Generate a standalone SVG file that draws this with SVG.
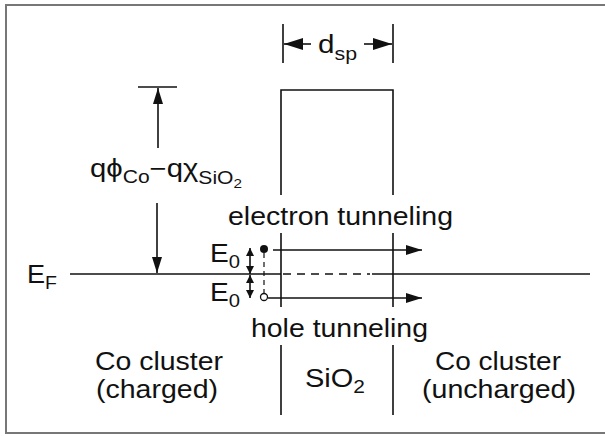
<svg xmlns="http://www.w3.org/2000/svg" width="605" height="436" viewBox="0 0 605 436">
<style>
.ln{stroke:#111;stroke-width:1.6;fill:none}
.dash{stroke:#111;stroke-width:1.6;fill:none;stroke-dasharray:8 6}
.dash2{stroke:#111;stroke-width:1.2;fill:none;stroke-dasharray:5 4}
.t{font-family:"Liberation Sans",Arial,sans-serif;font-size:25px;fill:#111}
.s{font-size:18px}
.ss{font-size:13px}
</style>
<defs>
<marker id="ah" viewBox="0 0 16 10" markerWidth="16" markerHeight="10" refX="16" refY="5" orient="auto-start-reverse" markerUnits="userSpaceOnUse"><path d="M0,0 L16,5 L0,10 Z" fill="#111"/></marker>
<marker id="ahb" viewBox="0 0 19 12" markerWidth="19" markerHeight="12" refX="19" refY="6" orient="auto-start-reverse" markerUnits="userSpaceOnUse"><path d="M0,0 L19,6 L0,12 Z" fill="#111"/></marker>
<marker id="ahs" viewBox="0 0 8 8" markerWidth="8" markerHeight="8" refX="8" refY="4" orient="auto-start-reverse" markerUnits="userSpaceOnUse"><path d="M0,0 L8,4 L0,8 Z" fill="#111"/></marker>
</defs>
<rect width="605" height="436" fill="#fff"/>
<g id="frame"><path d="M612,5 H6 V433 H612" fill="none" stroke="#777" stroke-width="2"/></g>
<g id="barrier">
<path class="ln" d="M281,195 V90 H393 V195"/>
<path class="ln" d="M281,233 V307 M393,233 V307"/>
<path class="ln" d="M281,345 V415 M393,345 V415"/>
</g>
<g id="fermi-level">
<path class="ln" d="M70,274 H281"/>
<path class="dash" d="M283,274 H370"/>
<path class="ln" d="M372,274 H590"/>
</g>
<g id="connectors">
<path class="ln" d="M283,24 V63 M393,24 V63"/>
<path class="ln" d="M311,44 H284" marker-end="url(#ahb)"/>
<path class="ln" d="M364,44 H392" marker-end="url(#ahb)"/>
<path class="ln" d="M138,87 H177"/>
<path class="ln" d="M158,148 V88" marker-end="url(#ah)"/>
<path class="ln" d="M157,203 V273" marker-end="url(#ah)"/>
<path class="ln" d="M250,248 V274" marker-start="url(#ahs)" marker-end="url(#ahs)"/>
<path class="ln" d="M250,275 V298" marker-start="url(#ahs)" marker-end="url(#ahs)"/>
<path class="dash2" d="M264,253 V293"/>
<path class="ln" d="M273,250 H422" marker-end="url(#ah)"/>
<path class="ln" d="M268,298 H422" marker-end="url(#ah)"/>
</g>
<g id="electron"><circle cx="264" cy="249" r="4" fill="#111"/></g>
<g id="hole"><circle cx="264" cy="297" r="3.5" fill="#fff" stroke="#111" stroke-width="1.3"/></g>
<g id="labels">
<text class="t" x="318" y="53" textLength="39" lengthAdjust="spacingAndGlyphs">d<tspan class="s" dy="7">sp</tspan></text>
<text class="t" x="90" y="177" textLength="152" lengthAdjust="spacingAndGlyphs">qϕ<tspan class="s" dy="6">Co</tspan><tspan dy="-6">−qχ</tspan><tspan class="s" dy="7">SiO</tspan><tspan class="ss" dy="4">2</tspan></text>
<text class="t" x="27" y="283" textLength="30" lengthAdjust="spacingAndGlyphs">E<tspan class="s" dy="6">F</tspan></text>
<text class="t" x="210" y="262" textLength="30" lengthAdjust="spacingAndGlyphs">E<tspan class="s" dy="6">0</tspan></text>
<text class="t" x="210" y="301" textLength="30" lengthAdjust="spacingAndGlyphs">E<tspan class="s" dy="6">0</tspan></text>
<text class="t" x="228" y="225" textLength="225" lengthAdjust="spacingAndGlyphs">electron tunneling</text>
<text class="t" x="251" y="337" textLength="177" lengthAdjust="spacingAndGlyphs">hole tunneling</text>
<text class="t" x="95" y="370" textLength="128" lengthAdjust="spacingAndGlyphs">Co cluster</text>
<text class="t" x="96" y="398" textLength="122" lengthAdjust="spacingAndGlyphs">(charged)</text>
<text class="t" x="305" y="387" textLength="60" lengthAdjust="spacingAndGlyphs">SiO<tspan class="s" dy="6">2</tspan></text>
<text class="t" x="435" y="370" textLength="126" lengthAdjust="spacingAndGlyphs">Co cluster</text>
<text class="t" x="422" y="398" textLength="154" lengthAdjust="spacingAndGlyphs">(uncharged)</text>
</g>
</svg>
